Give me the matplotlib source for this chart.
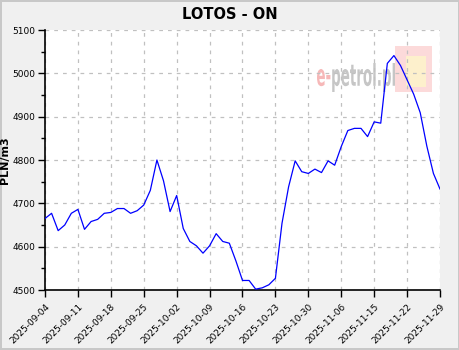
import matplotlib
matplotlib.use("Agg")
import matplotlib.pyplot as plt
from matplotlib.ticker import MultipleLocator
from matplotlib.patches import Rectangle, PathPatch
from matplotlib.textpath import TextPath
from matplotlib.font_manager import FontProperties
from matplotlib.transforms import Affine2D

# ceny LOTOS ON, kolejne notowania
prices = [4665, 4677, 4637, 4650, 4677, 4686, 4640, 4658, 4663, 4677,
          4679, 4688, 4688, 4677, 4683, 4696, 4730, 4800, 4752, 4681,
          4718, 4642, 4612, 4602, 4585, 4602, 4630, 4612, 4608, 4567,
          4522, 4522, 4502, 4505, 4512, 4527, 4654, 4738, 4798, 4773,
          4769, 4779, 4771, 4798, 4788, 4831, 4868, 4873, 4873, 4854,
          4888, 4885, 5023, 5041, 5018, 4985, 4952, 4909, 4832, 4769,
          4733]
tick_labels = ["2025-09-04", "2025-09-11", "2025-09-18", "2025-09-25",
               "2025-10-02", "2025-10-09", "2025-10-16", "2025-10-23",
               "2025-10-30", "2025-11-06", "2025-11-15", "2025-11-22",
               "2025-11-29"]

fig = plt.figure(figsize=(4.6, 3.5), dpi=100, facecolor="#f0f0f0",
                 edgecolor="#c8c8c8", linewidth=1.5)
ax = fig.add_axes([45 / 460, 60 / 350, 395 / 460, 260 / 350])

x = list(range(len(prices)))
ax.plot(x, prices, color="#0000ff", linewidth=0.9, zorder=3)

ax.set_xlim(0, len(prices) - 1)
ax.set_ylim(4500, 5100)
ax.set_xticks(range(0, len(prices), 5))
ax.set_xticklabels(tick_labels, rotation=45, ha="right", rotation_mode="anchor",
                   fontsize=6.5)
ax.yaxis.set_major_locator(MultipleLocator(100))
ax.yaxis.set_minor_locator(MultipleLocator(50))
ax.tick_params(axis="y", labelsize=6.5, length=5, width=1, pad=2)
ax.tick_params(axis="y", which="minor", length=3, width=1)
ax.tick_params(axis="x", length=5, width=1)

ax.grid(True, which="major", color="#c0c0c0", linestyle=(0, (3, 4)), linewidth=0.9)
for s in ("top", "right"):
    ax.spines[s].set_visible(False)
for s in ("left", "bottom"):
    ax.spines[s].set_linewidth(1.2)

ax.set_ylabel("PLN/m3", fontsize=8, fontweight="bold")
ax.yaxis.set_label_coords(-0.088, 0.5)
fig.text(0.5, 0.958, "LOTOS - ON", ha="center", va="center",
         fontsize=10.5, fontweight="bold")

# znak wodny e-petrol.pl (tekst sciesniony w poziomie)
fp = FontProperties(family="DejaVu Sans", weight="bold")
p1 = TextPath((0, 0), "e-", size=40, prop=fp)
p2 = TextPath((p1.get_extents().x1 + 2, 0), "petrol.pl", size=40, prop=fp)
ext1, ext2 = p1.get_extents(), p2.get_extents()
x0, x1 = ext1.x0, ext2.x1
y0, y1 = min(ext1.y0, ext2.y0), max(ext1.y1, ext2.y1)
sx = (395 - 317) / (x1 - x0)
sy = (287 - 258) / (y1 - y0)
tr = Affine2D().translate(-x0, -y0).scale(sx, sy).translate(317, 258)
ax.add_artist(PathPatch(p1, transform=tr, facecolor="#f6b8b8",
                        edgecolor="none", zorder=1, clip_on=False))
ax.add_artist(PathPatch(p2, transform=tr, facecolor="#c6c6c6",
                        edgecolor="none", zorder=1, clip_on=False))
ax.add_patch(Rectangle((0.886, 0.76), 0.094, 0.18, transform=ax.transAxes,
                       facecolor="#fcdada", edgecolor="none", zorder=0.8))
ax.add_patch(Rectangle((0.915, 0.78), 0.05, 0.12, transform=ax.transAxes,
                       facecolor="#fdf0cc", edgecolor="none", zorder=0.9))

fig.savefig("out.png", dpi=100, facecolor=fig.get_facecolor(),
            edgecolor=fig.get_edgecolor())
